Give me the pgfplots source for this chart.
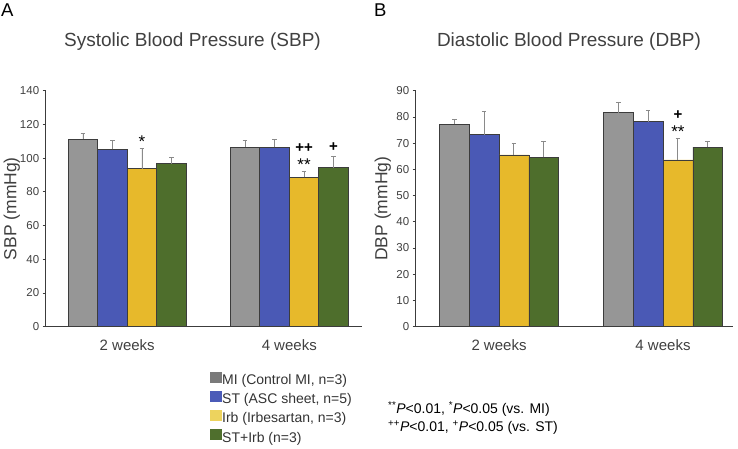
\documentclass[border=0pt]{standalone}
\usepackage{fontspec}
\setmainfont{Liberation Sans}
\usepackage{pgfplots}
\pgfplotsset{compat=1.18}
\definecolor{cMI}{HTML}{969696}
\definecolor{cST}{HTML}{4A59B5}
\definecolor{cIrb}{HTML}{E7B92B}
\definecolor{cSTI}{HTML}{4E6E2C}
\definecolor{lMI}{HTML}{7A7A7A}
\definecolor{lST}{HTML}{4B5BB8}
\definecolor{lIrb}{HTML}{EDD35E}
\definecolor{lSTI}{HTML}{4F6F2D}
\definecolor{edge}{HTML}{3C3C3C}
\definecolor{errc}{HTML}{8A8A8A}
\definecolor{txt}{HTML}{404040}
\tikzset{star/.style={font=\fontsize{15}{17}\selectfont\bfseries, anchor=base, text=black, inner sep=0pt},
         bigstar/.style={font=\fontsize{17}{19}\selectfont, anchor=base, text=black, inner sep=0pt}}
\pgfplotsset{
  bp/.style={
    scale only axis, height=236pt,
    ybar=0pt, bar width=29.5pt,
    axis x line=bottom, axis y line=left,
    axis line style={-, draw=edge, line width=0.9pt},
    ymin=0,
    /pgf/number format/assume math mode=true,
    xtick={0,1}, xticklabels={2 weeks,4 weeks},
    x tick style={draw=none},
    y tick style={draw=edge, line width=0.8pt},
    tick align=outside, major tick length=3pt,
    yticklabel style={font=\fontsize{11.5}{13}\selectfont, text=txt},
    xticklabel style={font=\fontsize{15}{17}\selectfont, text=txt, yshift=-6pt},
    ylabel style={font=\fontsize{17.5}{20}\selectfont, text=txt, anchor=center, rotate=0},
    every axis plot/.append style={draw=edge, line width=0.6pt,
      error bars/y dir=plus, error bars/y explicit,
      error bars/error bar style={color=errc, line width=0.9pt},
      error bars/error mark options={rotate=90, mark size=2.3pt, line width=0.9pt, color=errc}},
  },
  sq/.style={legend image code/.code={\fill[#1] (0pt,-1pt) rectangle (11pt,9pt);}},
}
\begin{document}
\begin{tikzpicture}
\path[use as bounding box] (0pt,0pt) rectangle (738pt,448pt);
% panel labels and titles
\node[anchor=base west, inner sep=0, font=\fontsize{18.5}{20}\selectfont] at (1pt,431.3pt) {A};
\node[anchor=base west, inner sep=0, font=\fontsize{18.5}{20}\selectfont] at (374pt,431.3pt) {B};
\node[anchor=base, inner sep=0, text=txt, font=\fontsize{19}{22}\selectfont] at (192.5pt,401pt) {Systolic Blood Pressure (SBP)};
\node[anchor=base, inner sep=0, text=txt, font=\fontsize{19}{22}\selectfont] at (569pt,401pt) {Diastolic Blood Pressure (DBP)};

\begin{axis}[bp, at={(45.7pt,121.3pt)}, anchor=south west, width=316pt,
  xmin=-0.503, xmax=1.447, ymax=140, ytick={0,20,...,140},
  ylabel={SBP (mmHg)}, ylabel style={at={(axis description cs:-0.107,0.5)}},
  legend style={at={(axis description cs:0.518,-0.189)}, anchor=north west,
    draw=none, fill=none, inner sep=0pt, row sep=2.5pt,
    font=\fontsize{14}{16}\selectfont, text=black!80,
    nodes={inner sep=1pt, text height=10pt, text depth=3pt}},
  legend cell align=left,
  ]
\addplot[fill=cMI, sq=lMI] coordinates {(0,111.3) +- (0,3.2) (1,106.6) +- (0,3.7)};
\addplot[fill=cST, sq=lST] coordinates {(0,105.2) +- (0,5.1) (1,106.4) +- (0,4.7)};
\addplot[fill=cIrb, sq=lIrb] coordinates {(0,93.7) +- (0,11.9) (1,88.6) +- (0,3.3)};
\addplot[fill=cSTI, sq=lSTI] coordinates {(0,96.7) +- (0,3.6) (1,94.3) +- (0,6.5)};
\legend{{MI (Control MI, n=3)}, {ST (ASC sheet, n=5)}, {Irb (Irbesartan, n=3)}, {ST+Irb (n=3)}}
\node[bigstar] at (axis cs:0.091,106.3) {*};
\node[star] at (axis cs:1.091,103.4) {++};
\node[bigstar] at (axis cs:1.091,92.8) {**};
\node[star] at (axis cs:1.273,104.2) {+};
\end{axis}

\begin{axis}[bp, at={(415.7pt,121.3pt)}, anchor=south west, width=317pt, bar width=29.8pt,
  xmin=-0.508, xmax=1.425, ymax=90, ytick={0,10,...,90},
  ylabel={DBP (mmHg)}, ylabel style={at={(axis description cs:-0.104,0.5)}},
  ]
\addplot[fill=cMI] coordinates {(0,77.2) +- (0,2.0) (1,81.6) +- (0,4.1)};
\addplot[fill=cST] coordinates {(0,73.2) +- (0,8.8) (1,78.2) +- (0,4.2)};
\addplot[fill=cIrb] coordinates {(0,65.5) +- (0,4.3) (1,63.6) +- (0,8.2)};
\addplot[fill=cSTI] coordinates {(0,64.6) +- (0,6.1) (1,68.5) +- (0,2.2)};
\node[star] at (axis cs:1.091,79.2) {+};
\node[bigstar] at (axis cs:1.091,72.3) {**};
\end{axis}

\node[anchor=base west, inner sep=0, text=black, font=\fontsize{14}{16}\selectfont] at (388pt,34.6pt)
  {\textsuperscript{**}\textit{P}<0.01, \textsuperscript{*}\textit{P}<0.05 (vs. MI)};
\node[anchor=base west, inner sep=0, text=black, font=\fontsize{14}{16}\selectfont] at (388pt,16.6pt)
  {\textsuperscript{++}\textit{P}<0.01, \textsuperscript{+}\textit{P}<0.05 (vs. ST)};
\end{tikzpicture}
\end{document}
